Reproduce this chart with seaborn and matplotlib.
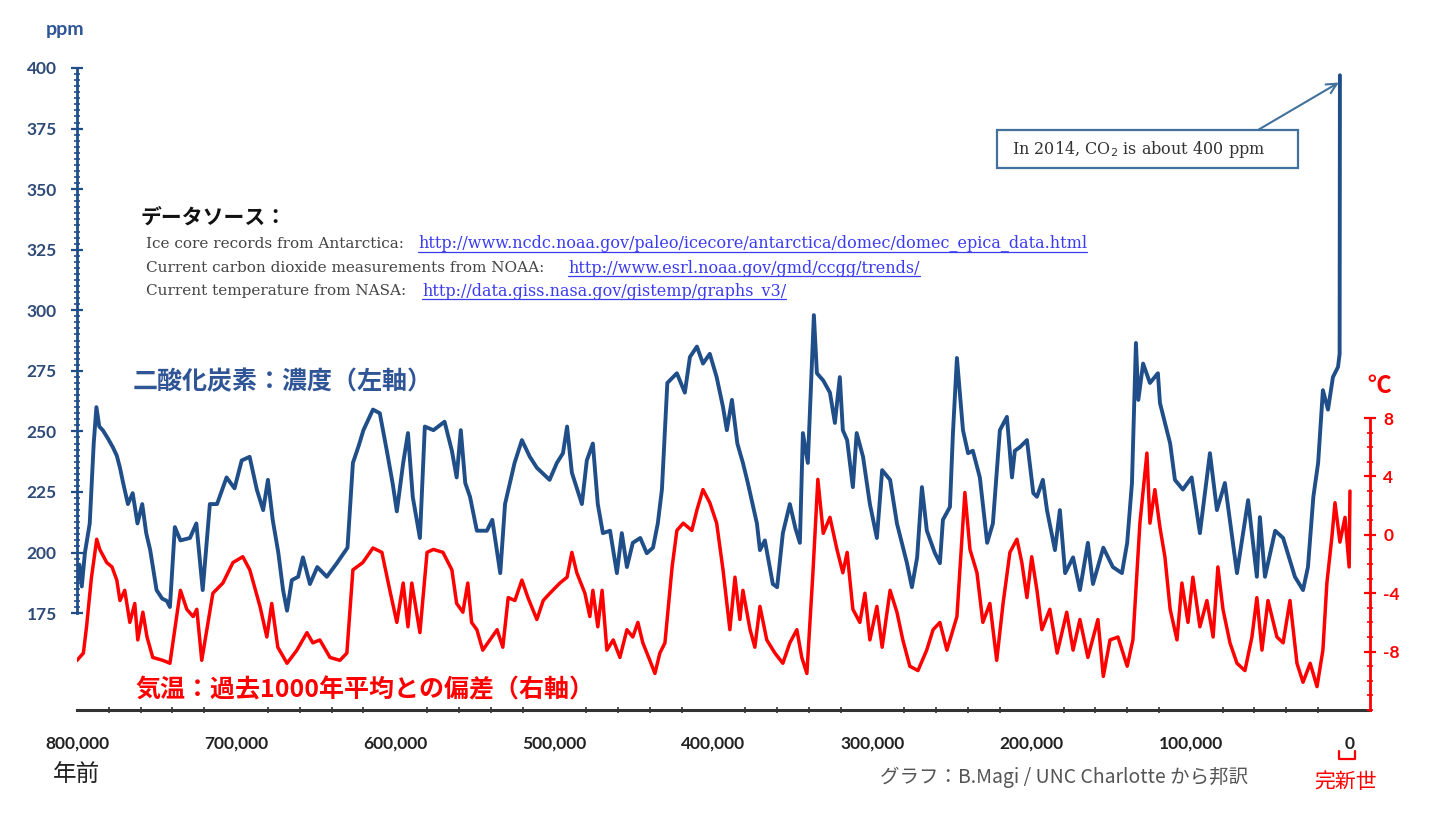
import numpy as np
import pandas as pd
import matplotlib
matplotlib.use("Agg")
import matplotlib.pyplot as plt
from matplotlib.ticker import FixedLocator, FuncFormatter
from matplotlib.lines import Line2D
from matplotlib.patches import Rectangle
import seaborn as sns

# ── Data ───────────────────────────────────────────────────
# CO2 concentration, thousand years before present / ppm
co2_ka = [800.0, 798.5, 797.0, 795.0, 792.0, 789.5, 787.8, 786.0, 783.8, 780.5,
          777.5, 775.0, 773.0, 771.0, 768.0, 765.0, 762.0, 759.0, 756.5, 754.0,
          750.0, 746.5, 743.5, 741.6, 738.5, 735.0, 729.0, 725.0, 721.0, 716.5,
          712.0, 706.0, 701.0, 696.5, 691.5, 687.0, 683.0, 680.0, 677.0, 673.5,
          670.5, 668.0, 665.0, 661.0, 658.0, 653.6, 649.0, 643.0, 636.7, 630.0,
          626.6, 623.0, 620.0, 614.0, 609.7, 605.0, 601.5, 599.0, 595.0, 592.0,
          589.0, 584.5, 581.4, 576.0, 569.0, 564.4, 561.4, 558.8, 556.0, 553.0,
          548.7, 542.4, 539.0, 534.0, 531.0, 525.0, 520.4, 515.4, 511.0, 503.0,
          498.4, 494.6, 492.0, 489.0, 482.7, 479.6, 475.8, 472.7, 469.5, 465.0,
          460.7, 457.6, 454.4, 450.7, 446.0, 441.9, 438.0, 435.0, 432.4, 429.0,
          423.0, 418.0, 414.8, 410.4, 406.6, 402.3, 398.0, 394.0, 391.6, 388.4,
          385.0, 381.5, 378.4, 372.7, 370.8, 367.7, 362.7, 360.0, 356.4, 352.0,
          348.5, 345.7, 343.8, 340.7, 336.9, 335.0, 331.0, 326.8, 323.7, 320.6,
          318.7, 316.0, 312.4, 310.0, 306.0, 301.7, 297.3, 294.0, 289.0, 284.7,
          278.4, 275.3, 272.0, 269.0, 265.9, 261.0, 257.7, 255.8, 251.4, 249.5,
          247.0, 243.2, 240.0, 237.0, 232.6, 228.0, 224.4, 220.0, 215.6, 212.4,
          210.6, 207.4, 203.0, 199.0, 196.7, 193.0, 190.4, 185.4, 182.3, 179.0,
          174.0, 169.7, 164.7, 161.5, 155.0, 149.0, 143.3, 140.0, 137.0, 134.5,
          133.0, 130.0, 125.7, 120.7, 119.4, 113.0, 110.0, 105.0, 99.5, 94.3,
          88.0, 83.6, 78.6, 71.0, 64.0, 58.5, 56.6, 53.4, 47.0, 42.0,
          34.6, 29.5, 26.4, 23.0, 20.0, 17.0, 13.8, 10.7, 7.5, 6.5, 6.3]
co2_ppm = [188, 195, 186, 200, 212, 245, 260, 252, 250.5, 247,
           243.5, 240, 235, 228.7, 220, 224.5, 212, 220, 208, 201,
           184.5, 181, 180, 177.5, 210.5, 205, 206, 212, 184.5, 220,
           220, 231, 226.5, 238, 239.5, 226, 217.5, 230, 213.5, 200,
           184.5, 176, 188.6, 190, 198, 187, 194, 190, 195.6, 202,
           237, 244, 250.5, 259, 257.5, 241, 228, 217, 237, 249.3,
           223, 206, 252, 250.5, 254, 242, 231, 250.5, 228.7, 223,
           209, 209, 213.5, 191.5, 220, 237, 246.4, 239.5, 235, 230,
           237, 241, 252, 233, 220, 238, 245, 220, 208, 209,
           191.5, 208, 194, 204, 206, 199.7, 202, 212, 226, 270,
           274, 266, 280.7, 285, 278, 282, 272.4, 260, 250.5, 263,
           245, 237, 228.7, 212, 201, 205, 187, 185.7, 208, 220,
           210, 204, 249.3, 237, 298, 274, 271, 266, 253.5, 272.4,
           250.5, 246.4, 227, 249.3, 239.5, 220, 206, 234, 230, 212,
           195.6, 185.7, 198, 227, 209, 200, 195.6, 213.5, 218.8, 249.3,
           280.3, 250.5, 241, 242, 231, 204, 212, 250.5, 256, 231,
           242, 243.5, 246.4, 224.5, 223, 230, 217.5, 201, 217.5, 191.5,
           198, 184.5, 204, 187, 202, 194, 191.5, 204, 228.7, 286.5,
           263, 278, 270, 274, 261.7, 245, 230, 226, 231, 208,
           241, 217.5, 228.7, 191.5, 221.6, 190, 214.6, 190, 209, 206,
           190, 184.5, 194, 223, 237, 267, 259, 272.4, 276.6, 282, 397]

# Temperature deviation from the last 1000 years mean, °C
temp_ka = [800.0, 796.0, 794.0, 791.0, 787.6, 785.7, 781.3, 778.0, 775.0, 773.0,
           770.0, 766.8, 763.7, 761.8, 758.6, 756.0, 752.4, 746.0, 741.6, 735.0,
           731.0, 727.0, 724.7, 721.6, 714.6, 708.3, 702.0, 695.8, 691.4, 685.0,
           680.7, 677.6, 673.8, 668.0, 661.8, 655.5, 651.8, 647.4, 641.0, 634.8,
           630.4, 626.6, 620.4, 614.0, 608.4, 603.4, 599.0, 595.0, 592.0, 589.6,
           584.5, 580.0, 576.0, 570.0, 564.4, 561.4, 557.5, 554.4, 552.0, 548.7,
           545.0, 540.5, 536.0, 532.4, 529.0, 524.8, 520.4, 516.6, 511.0, 507.0,
           502.8, 496.5, 492.0, 489.0, 485.9, 480.8, 477.7, 475.8, 472.7, 470.0,
           467.0, 463.0, 458.8, 454.4, 450.7, 447.5, 444.4, 440.0, 436.8, 433.7,
           430.5, 426.0, 423.0, 419.0, 413.6, 410.4, 406.6, 402.3, 398.0, 394.0,
           389.7, 386.5, 383.4, 381.5, 377.0, 374.0, 370.8, 366.5, 361.4, 356.4,
           352.0, 347.6, 344.5, 341.3, 337.5, 334.4, 331.0, 326.8, 322.4, 318.7,
           316.0, 312.4, 308.0, 304.8, 301.7, 297.3, 294.0, 289.0, 284.7, 281.0,
           276.6, 271.5, 266.0, 262.0, 257.7, 253.3, 247.0, 242.0, 238.8, 234.4,
           230.7, 226.3, 222.0, 218.0, 213.7, 209.3, 206.2, 203.0, 200.0, 196.7,
           193.6, 188.6, 184.0, 178.0, 174.0, 169.7, 164.7, 158.4, 155.0, 150.8,
           145.8, 140.0, 136.4, 132.0, 127.6, 125.7, 122.6, 119.4, 116.3, 113.0,
           108.7, 105.6, 101.8, 98.7, 94.3, 89.9, 86.0, 83.0, 79.8, 75.4,
           71.0, 66.0, 61.6, 58.5, 55.3, 51.5, 45.9, 42.0, 37.7, 33.3,
           29.5, 25.0, 20.7, 17.0, 14.5, 11.3, 9.4, 6.3, 3.1, 0.5, 0.0]
temp_c = [-8.6, -8.1, -6.3, -3.0, -0.3, -1.0, -1.9, -2.2, -3.1, -4.5,
          -3.8, -6.0, -4.7, -7.2, -5.3, -7.0, -8.4, -8.6, -8.8, -3.8,
          -5.1, -5.6, -5.1, -8.6, -4.0, -3.3, -1.9, -1.5, -2.4, -4.9,
          -7.0, -4.7, -7.7, -8.8, -7.9, -6.7, -7.4, -7.2, -8.4, -8.6,
          -8.1, -2.4, -1.9, -0.9, -1.2, -3.8, -6.0, -3.3, -6.3, -3.3,
          -6.7, -1.2, -1.0, -1.2, -2.4, -4.7, -5.3, -3.3, -6.0, -6.5,
          -7.9, -7.2, -6.5, -7.7, -4.3, -4.5, -3.1, -4.3, -5.8, -4.5,
          -4.0, -3.3, -2.9, -1.2, -2.6, -4.0, -5.6, -3.8, -6.3, -3.8,
          -7.9, -7.2, -8.4, -6.5, -7.0, -6.0, -7.4, -8.6, -9.5, -8.1,
          -7.4, -2.2, 0.3, 0.8, 0.3, 1.7, 3.1, 2.2, 0.8, -2.4,
          -6.5, -2.9, -5.8, -3.8, -6.5, -7.7, -4.9, -7.2, -8.1, -8.8,
          -7.4, -6.5, -8.4, -9.5, -2.6, 3.8, 0.1, 1.2, -1.0, -2.6,
          -1.2, -5.1, -6.0, -4.0, -7.2, -4.9, -7.7, -3.8, -5.3, -7.2,
          -9.0, -9.3, -7.9, -6.5, -6.0, -7.9, -5.6, 2.9, -1.0, -2.6,
          -6.0, -4.7, -8.6, -4.7, -1.2, -0.3, -1.9, -4.3, -1.5, -3.8,
          -6.5, -5.1, -8.1, -5.3, -7.9, -5.8, -8.4, -5.8, -9.7, -7.2,
          -7.0, -9.0, -7.2, 0.8, 5.6, 0.8, 3.1, 0.5, -1.5, -5.1,
          -7.2, -3.3, -6.0, -2.9, -6.3, -4.5, -7.0, -2.2, -5.1, -7.4,
          -8.8, -9.3, -7.0, -4.3, -7.9, -4.5, -7.0, -7.4, -4.5, -8.8,
          -10.1, -8.8, -10.4, -7.9, -3.3, -0.1, 2.2, -0.5, 1.2, -2.2, 3.0]

left_ticks = [175, 200, 225, 250, 275, 300, 325, 350, 375, 400]
right_ticks = [-8, -4, 0, 4, 8]
x_ticks = [800000, 700000, 600000, 500000, 400000, 300000, 200000, 100000, 0]

co2 = pd.DataFrame({"years": np.array(co2_ka) * 1000, "ppm": co2_ppm})
temp = pd.DataFrame({"years": np.array(temp_ka) * 1000, "degc": temp_c})

# ── Style ───────────────────────────────────────────────
BLUE = "#1f4e89"
BLUE_TXT = "#2f5597"
RED = "#ff0000"
W, H = 1440, 824

sns.set_style("white")
plt.rcParams["font.family"] = ["Lato", "Noto Sans CJK JP", "DejaVu Sans"]
plt.rcParams["axes.unicode_minus"] = False
JP = ["Noto Sans CJK JP", "DejaVu Sans"]
SERIF = ["DejaVu Serif"]


def fx(px):
    return px / W


def fy(py):
    return 1 - py / H


fig = plt.figure(figsize=(W / 100, H / 100), dpi=100)
ax = fig.add_axes([fx(77), fy(710), fx(1370) - fx(77), fy(60) - fy(710)])
ax2 = ax.twinx()

sns.lineplot(data=co2, x="years", y="ppm", ax=ax, color=BLUE, lw=2.8,
             sort=False, estimator=None)
sns.lineplot(data=temp, x="years", y="degc", ax=ax2, color=RED, lw=2.5,
             sort=False, estimator=None)

ax.set_xlim(800000, -12600)
ax.set_ylim(135, 403.3)
ax2.set_ylim(-12, 32.53)
for a in (ax, ax2):
    a.set_xlabel("")
    a.set_ylabel("")

# spines
for s in ("top", "right"):
    ax.spines[s].set_visible(False)
for s in ("top", "left", "bottom"):
    ax2.spines[s].set_visible(False)
ax.spines["left"].set_bounds(175, 400)
ax.spines["left"].set_color(BLUE)
ax.spines["left"].set_linewidth(2)
ax.spines["bottom"].set_color("#333333")
ax.spines["bottom"].set_linewidth(2.2)
ax2.spines["right"].set_bounds(-12, 8)
ax2.spines["right"].set_color(RED)
ax2.spines["right"].set_linewidth(2)

# left axis ticks
ax.yaxis.set_major_locator(FixedLocator(left_ticks))
ax.yaxis.set_minor_locator(FixedLocator(np.arange(175, 400.1, 2.5)))
ax.tick_params(axis="y", which="major", direction="inout", length=9, width=1.6,
               color=BLUE, labelcolor="#2e4a78", labelsize=12.5, pad=10)
ax.tick_params(axis="y", which="minor", direction="inout", length=5, width=1.2,
               color=BLUE, left=True)
for lab in ax.get_yticklabels():
    lab.set_fontweight("bold")

# bottom axis ticks
ax.xaxis.set_major_locator(FixedLocator(x_ticks))
ax.xaxis.set_minor_locator(FixedLocator(np.arange(0, 800001, 20000)))
ax.xaxis.set_major_formatter(FuncFormatter(lambda v, p: f"{int(v):,}"))
ax.tick_params(axis="x", which="major", direction="inout", length=9, width=1.6,
               color="#333333", labelcolor="#222222", labelsize=12.5, pad=14)
ax.tick_params(axis="x", which="minor", direction="inout", length=5, width=1.2,
               color="#333333", bottom=True)
for lab in ax.get_xticklabels():
    lab.set_fontweight("bold")

# right axis ticks
ax2.yaxis.set_major_locator(FixedLocator(right_ticks))
ax2.yaxis.set_minor_locator(FixedLocator(np.arange(-12, 8.1, 1)))
ax2.tick_params(axis="y", which="major", direction="inout", length=9, width=1.6,
                color=RED, labelcolor=RED, labelsize=12.5, pad=5)
ax2.tick_params(axis="y", which="minor", direction="inout", length=5, width=1.2,
                color=RED, right=True)
for lab in ax2.get_yticklabels():
    lab.set_fontweight("bold")

# ── Texts ───────────────────────────────────────────────
fig.text(fx(65), fy(30), "ppm", color=BLUE_TXT, fontsize=14, fontweight="bold",
         ha="center", va="center")
fig.text(fx(1379), fy(386), "℃", color=RED, fontsize=17, fontweight="bold",
         ha="center", va="center", family=JP)
fig.text(fx(133), fy(382), "二酸化炭素：濃度（左軸）", color=BLUE_TXT, fontsize=18,
         fontweight="bold", ha="left", va="center", family=JP)
fig.text(fx(135), fy(690), "気温：過去1000年平均との偏差（右軸）", color=RED,
         fontsize=18, fontweight="bold", ha="left", va="center", family=JP)
fig.text(fx(77), fy(774), "年前", color="#222222", fontsize=17, ha="center",
         va="center", family=JP)
fig.text(fx(880), fy(777), "グラフ：B.Magi / UNC Charlotte から邦訳", color="#555555",
         fontsize=14, ha="left", va="center", family=JP)
fig.text(fx(1346), fy(782), "完新世", color=RED, fontsize=15, ha="center",
         va="center", family=JP)
fig.add_artist(Line2D([fx(1339), fx(1339), fx(1355), fx(1355)],
                      [fy(751), fy(759), fy(759), fy(751)],
                      color=RED, lw=1.6, transform=fig.transFigure))

fig.text(fx(140), fy(217), "データソース：", color="#111111", fontsize=15,
         fontweight="bold", ha="left", va="center", family=JP)

sources = [
    ("Ice core records from Antarctica:",
     "http://www.ncdc.noaa.gov/paleo/icecore/antarctica/domec/domec_epica_data.html",
     244, 418),
    ("Current carbon dioxide measurements from NOAA:",
     "http://www.esrl.noaa.gov/gmd/ccgg/trends/", 268, 568),
    ("Current temperature from NASA:",
     "http://data.giss.nasa.gov/gistemp/graphs_v3/", 291, 422),
]
url_texts = []
for label, url, py, ux in sources:
    fig.text(fx(146), fy(py), label, color="#444444", fontsize=11,
             ha="left", va="center", family=SERIF)
    url_texts.append(fig.text(fx(ux), fy(py), url, color="#3b3bf0", fontsize=11.5,
                              ha="left", va="center", family=SERIF))

# annotation box and arrow
fig.add_artist(Rectangle((fx(997), fy(168)), fx(1298) - fx(997), fy(130) - fy(168),
                         transform=fig.transFigure, fill=False,
                         edgecolor="#41719c", lw=1.6))
fig.text(fx(1012), fy(150), "In 2014, CO$_2$ is about 400 ppm", color="#333333",
         fontsize=11.5, ha="left", va="center", family=SERIF)
ax.annotate("", xy=(7000, 394), xycoords="data",
            xytext=(fx(1258), fy(130)), textcoords="figure fraction",
            arrowprops=dict(arrowstyle="->", color="#41719c", lw=1.5,
                            shrinkA=0, shrinkB=0, mutation_scale=18))

# underline the links
fig.canvas.draw()
renderer = fig.canvas.get_renderer()
for t in url_texts:
    bb = t.get_window_extent(renderer=renderer)
    y = (bb.y0 + 1) / H
    fig.add_artist(Line2D([bb.x0 / W, bb.x1 / W], [y, y], color="#3b3bf0",
                          lw=0.9, transform=fig.transFigure))

fig.savefig("out.png", dpi=100)
